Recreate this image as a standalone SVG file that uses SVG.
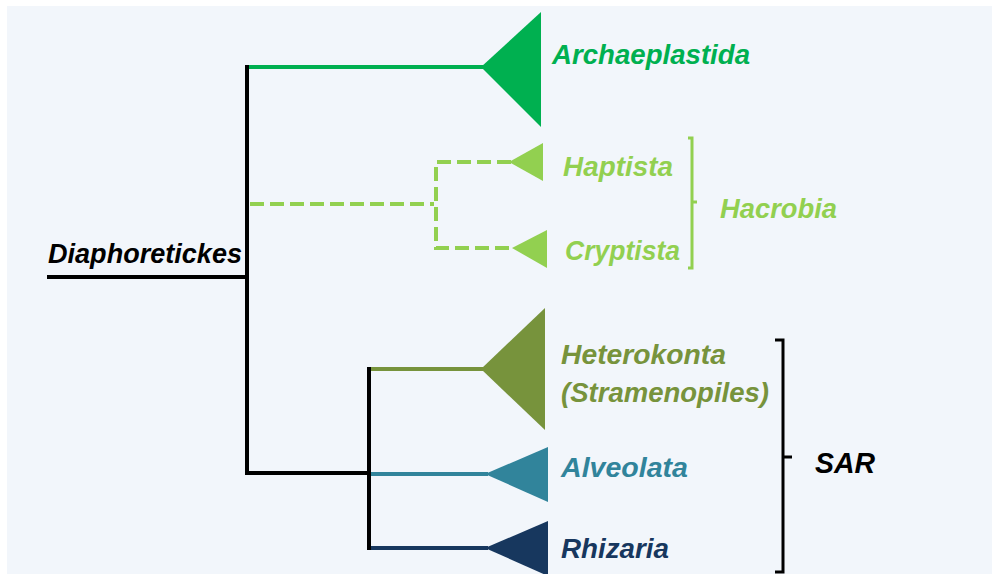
<svg xmlns="http://www.w3.org/2000/svg" width="992" height="574" viewBox="0 0 992 574">
<style>
text{font-family:"Liberation Sans",Arial,sans-serif;font-weight:bold;font-style:italic;font-size:27px}
.ln{fill:none;stroke-width:4}
.dash{fill:none;stroke:#92d050;stroke-width:4;stroke-dasharray:14 6}
</style>
<rect x="0" y="0" width="992" height="574" fill="#ffffff"/>
<rect x="7" y="6" width="985" height="568" fill="#f2f6fb"/>
<g id="connectors">
<path class="ln" stroke="#000" d="M47,277 L249,277"/>
<path class="ln" stroke="#000" d="M247,65 L247,475"/>
<path class="ln" stroke="#00b050" d="M249,67 L484,67"/>
<path class="dash" d="M250,204 L434,204"/>
<path class="dash" d="M511,162 L436,162 L436,248 L514,248"/>
<path class="ln" stroke="#000" d="M245,473 L371,473"/>
<path class="ln" stroke="#000" d="M369,367 L369,550"/>
<path class="ln" stroke="#77933c" d="M371,369 L484,369"/>
<path class="ln" stroke="#31849b" d="M371,474 L488,474"/>
<path class="ln" stroke="#17375e" d="M371,548 L488,548"/>
</g>
<g id="root">
<text x="48" y="263" fill="#000" textLength="194" lengthAdjust="spacingAndGlyphs">Diaphoretickes</text>
</g>
<g id="archaeplastida">
<polygon points="481,67 541,12 541,127" fill="#00b050"/>
<text x="552" y="64" fill="#00b050" textLength="198" lengthAdjust="spacingAndGlyphs">Archaeplastida</text>
</g>
<g id="haptista">
<polygon points="509,162 543,143 543,181" fill="#92d050"/>
<text x="563" y="176" fill="#92d050" textLength="110" lengthAdjust="spacingAndGlyphs">Haptista</text>
</g>
<g id="cryptista">
<polygon points="512,248 547,230 547,268" fill="#92d050"/>
<text x="565" y="260" fill="#92d050" textLength="115" lengthAdjust="spacingAndGlyphs">Cryptista</text>
</g>
<g id="hacrobia">
<path d="M688,138 L692,138 L692,268 L688,268 M692,202 L697,202" fill="none" stroke="#92d050" stroke-width="3"/>
<text x="720" y="218" fill="#92d050" textLength="117" lengthAdjust="spacingAndGlyphs">Hacrobia</text>
</g>
<g id="heterokonta">
<polygon points="481,369 545,308 545,430" fill="#77933c"/>
<text x="561" y="364" fill="#77933c" textLength="165" lengthAdjust="spacingAndGlyphs">Heterokonta</text>
<text x="561" y="402" fill="#77933c" textLength="208" lengthAdjust="spacingAndGlyphs">(Stramenopiles)</text>
</g>
<g id="alveolata">
<polygon points="485,474 548,447 548,502" fill="#31849b"/>
<text x="561" y="477" fill="#31849b" textLength="127" lengthAdjust="spacingAndGlyphs">Alveolata</text>
</g>
<g id="rhizaria">
<polygon points="485,548 548,521 548,576" fill="#17375e"/>
<text x="561" y="558" fill="#17375e" textLength="108" lengthAdjust="spacingAndGlyphs">Rhizaria</text>
</g>
<g id="sar">
<path d="M775,340 L783,340 L783,572 L775,572 M783,457 L792,457" fill="none" stroke="#000" stroke-width="3"/>
<text x="815" y="473" fill="#000" font-size="30" style="font-size:30px" textLength="60" lengthAdjust="spacingAndGlyphs">SAR</text>
</g>
</svg>
